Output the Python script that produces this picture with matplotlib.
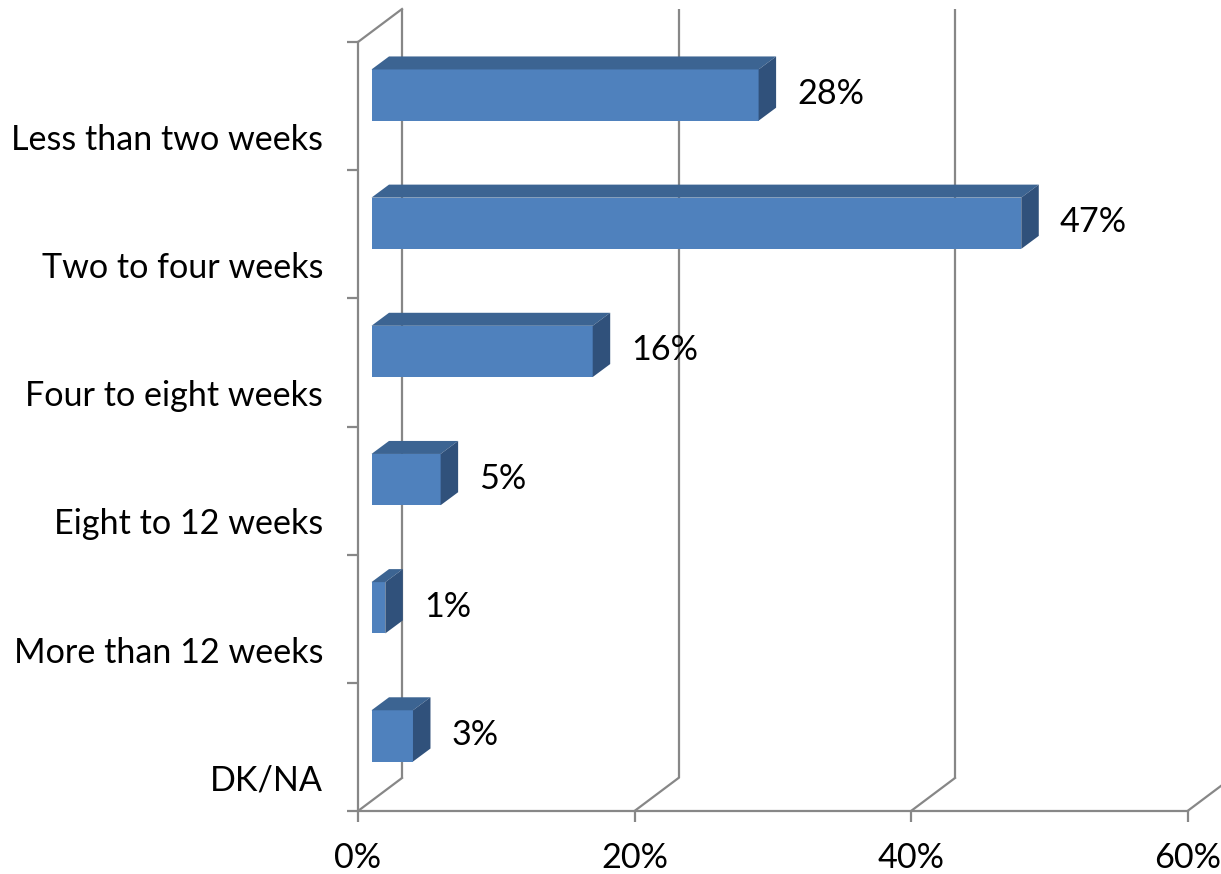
import matplotlib
matplotlib.use("Agg")
import matplotlib.pyplot as plt
import matplotlib.transforms as mtrans
from matplotlib.patches import Polygon
import numpy as np

# ---- data ----
categories = ["Less than two weeks", "Two to four weeks", "Four to eight weeks",
              "Eight to 12 weeks", "More than 12 weeks", "DK/NA"]
values = [28, 47, 16, 5, 1, 3]
value_labels = ["28%", "47%", "16%", "5%", "1%", "3%"]
xticks = [0, 20, 40, 60]
xtick_labels = ["0%", "20%", "40%", "60%"]

# ---- style ----
plt.rcParams['font.family'] = ['Lato', 'DejaVu Sans']
FS = 24.6
GRID = '#878787'
FRONT = '#4F81BD'
TOP = '#3C6492'
SIDE = '#30517B'

W, H, DPI = 1221, 874, 100
fig = plt.figure(figsize=(W / DPI, H / DPI), dpi=DPI)
fig.patch.set_facecolor('white')
ax = fig.add_axes([358 / W, 1 - 811 / H, (1187.5 - 358) / W, (811 - 42) / H])
n = len(categories)
ax.set_xlim(0, 60)
ax.set_ylim(n, 0)
ax.set_facecolor('none')

# depth offsets in pixels (display coords, y up)
DX, DY = 44, 33      # full wall depth
FX, FY = 13.5, 11    # bar front face offset
BX, BY = 17.5, 13    # bar depth

def shifted(dx, dy):
    return ax.transData + mtrans.Affine2D().translate(dx, dy)

def disp(x, y, dx=0.0, dy=0.0):
    p = ax.transData.transform((x, y))
    return (p[0] + dx, p[1] + dy)

ident = mtrans.IdentityTransform()
lw = 1.6

# spines & ticks (front left wall edge and floor front edge)
for s in ['top', 'right']:
    ax.spines[s].set_visible(False)
for s in ['left', 'bottom']:
    ax.spines[s].set_color(GRID)
    ax.spines[s].set_linewidth(lw)
    ax.spines[s].set_zorder(1)

ax.set_yticks(np.arange(n + 1))
ax.set_yticklabels([])
ax.set_yticks(np.arange(n) + 0.74, minor=True)
ax.set_yticklabels(categories, minor=True, fontsize=FS)
ax.tick_params(axis='y', which='major', length=8, width=lw, color=GRID, direction='out')
ax.tick_params(axis='y', which='minor', length=0, pad=25)

ax.set_xticks(xticks)
ax.set_xticklabels(xtick_labels, fontsize=FS)
ax.tick_params(axis='x', which='major', length=8, width=lw, color=GRID, direction='out', pad=14)

# back wall vertical gridlines
for xv in xticks:
    ax.plot([xv, xv], [0, n], color=GRID, lw=lw, transform=shifted(DX, DY),
            clip_on=False, zorder=1, solid_capstyle='butt')
    # floor diagonals
    p0 = disp(xv, n)
    p1 = disp(xv, n, DX, DY)
    ax.plot([p0[0], p1[0]], [p0[1], p1[1]], color=GRID, lw=lw, transform=ident,
            clip_on=False, zorder=1)
# left wall top diagonal
p0 = disp(0, 0)
p1 = disp(0, 0, DX, DY)
ax.plot([p0[0], p1[0]], [p0[1], p1[1]], color=GRID, lw=lw, transform=ident,
        clip_on=False, zorder=1)

# bars: front faces
ypos = np.arange(n) + 0.5
bh = 0.4
ax.barh(ypos, values, height=bh, left=0, color=FRONT, transform=shifted(FX, FY),
        zorder=3, clip_on=False)

for i, v in enumerate(values):
    yt = ypos[i] - bh / 2
    yb = ypos[i] + bh / 2
    top = [disp(0, yt, FX, FY), disp(v, yt, FX, FY),
           disp(v, yt, FX + BX, FY + BY), disp(0, yt, FX + BX, FY + BY)]
    side = [disp(v, yt, FX, FY), disp(v, yb, FX, FY),
            disp(v, yb, FX + BX, FY + BY), disp(v, yt, FX + BX, FY + BY)]
    ax.add_patch(Polygon(top, closed=True, facecolor=TOP, edgecolor='none',
                         transform=ident, zorder=3, clip_on=False))
    ax.add_patch(Polygon(side, closed=True, facecolor=SIDE, edgecolor='none',
                         transform=ident, zorder=3, clip_on=False))
    ax.text(v, ypos[i], value_labels[i], fontsize=FS, ha='left', va='center_baseline',
            transform=shifted(FX + BX + 21, FY + 4), zorder=4)

fig.savefig('out.png', dpi=DPI, facecolor='white')
